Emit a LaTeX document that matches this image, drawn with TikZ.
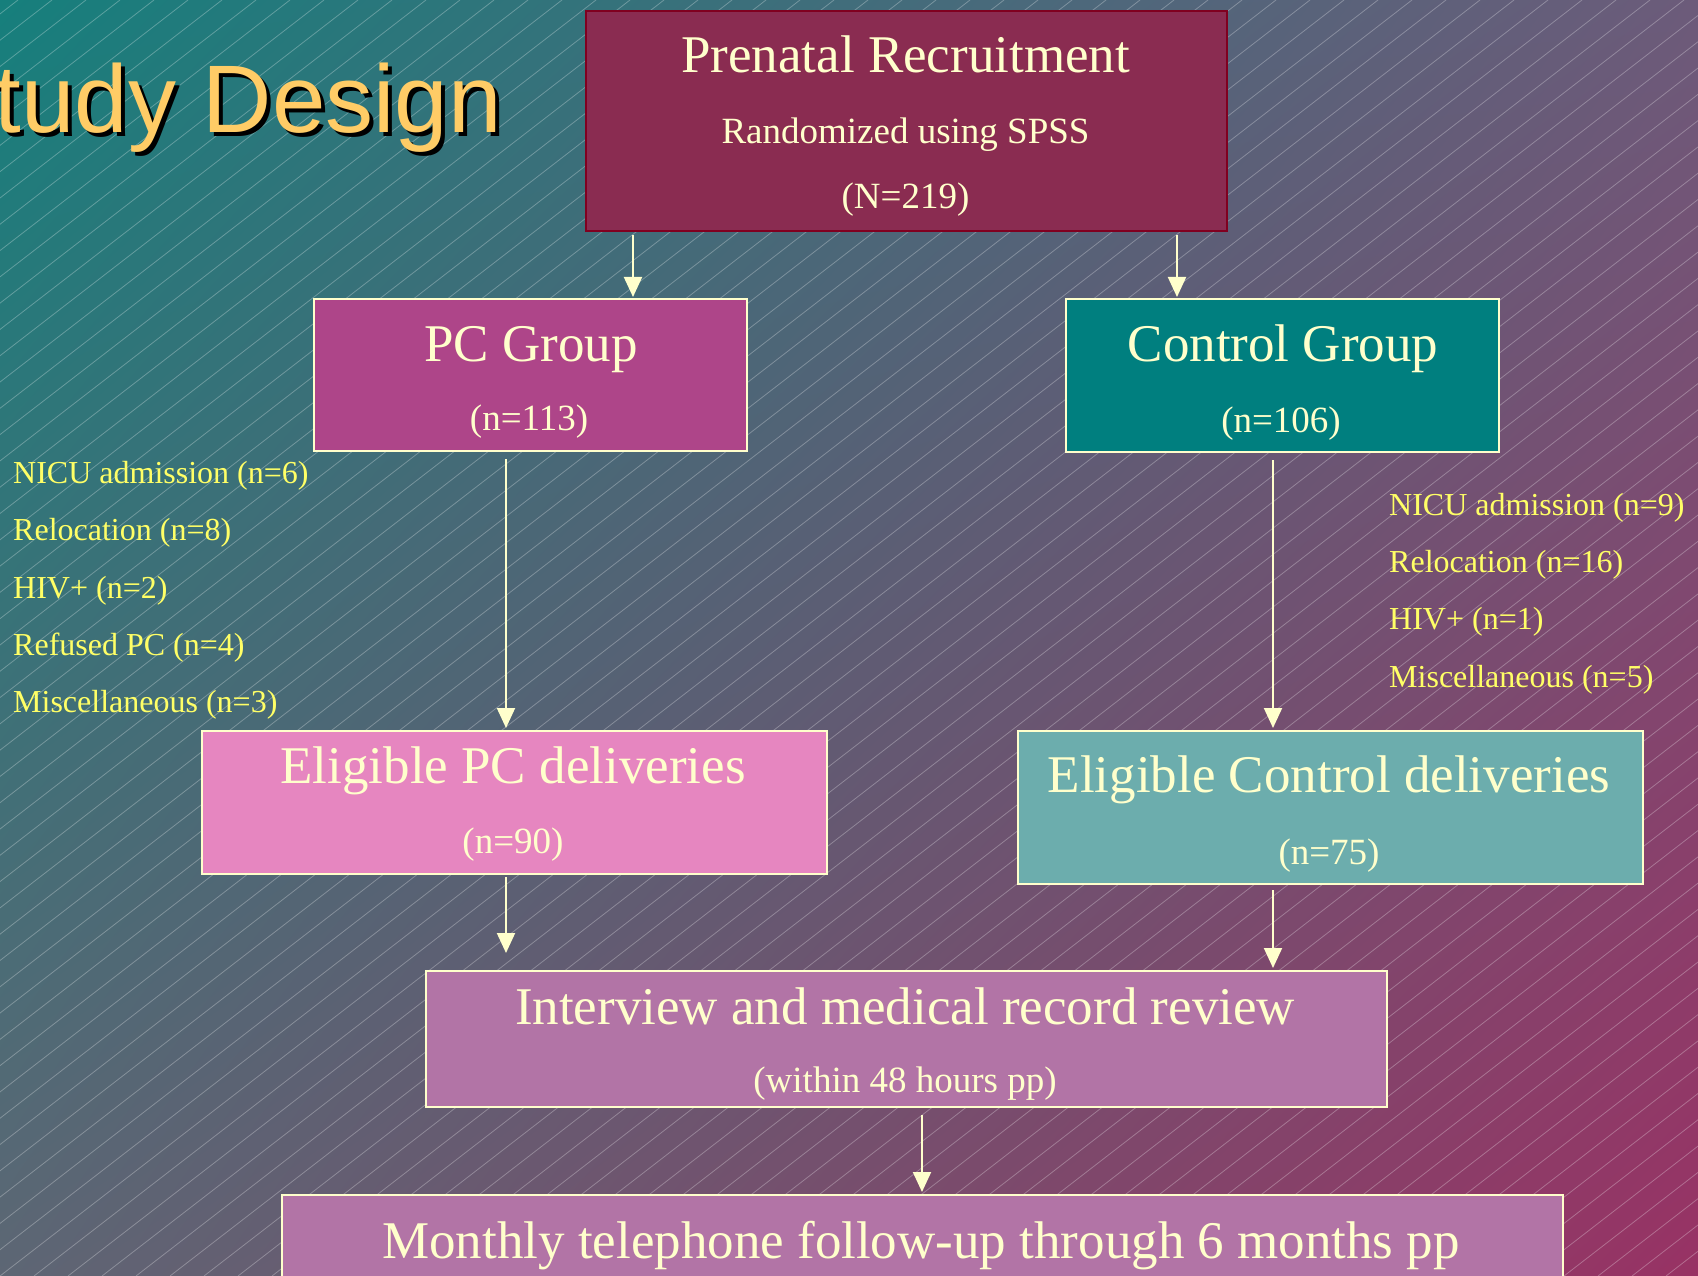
\documentclass[tikz,border=0pt]{standalone}
\usepackage{fontspec}
\setmainfont{Liberation Serif}
\newfontfamily\titlefont{Liberation Sans}
\usetikzlibrary{arrows.meta,shadings}
\definecolor{cream}{HTML}{FFFFCC}
\definecolor{listyellow}{HTML}{FFFF66}
\definecolor{titleyellow}{HTML}{FFCC66}
\definecolor{bgTL}{HTML}{167F7C}
\definecolor{bgTR}{HTML}{6C5B7A}
\definecolor{bgBL}{HTML}{5D6674}
\definecolor{bgBR}{HTML}{983264}
\definecolor{topfill}{HTML}{8A2C51}
\definecolor{topborder}{HTML}{800020}
\definecolor{pcfill}{HTML}{AE4589}
\definecolor{ctrlfill}{HTML}{007F7F}
\definecolor{epcfill}{HTML}{E686C0}
\definecolor{ectrlfill}{HTML}{6CADAD}
\definecolor{ivfill}{HTML}{B274A6}
\begin{document}
\begin{tikzpicture}[x=1pt,y=-1pt,
  box/.style={draw=cream, line width=2pt, inner sep=0pt, anchor=north west},
  big/.style={text=cream, anchor=base, inner sep=0pt, font=\fontsize{53}{60}\selectfont},
  small/.style={text=cream, anchor=base, inner sep=0pt, font=\fontsize{37}{42}\selectfont},
  listitem/.style={text=listyellow, anchor=base west, inner sep=0pt, font=\fontsize{32}{36}\selectfont},
  arr/.style={draw=cream, line width=2pt, -{Triangle[width=18pt,length=20pt]}},
  hatch/.style={draw=white, opacity=0.28, line width=0.8pt},
]
\useasboundingbox (0,0) rectangle (1698,1276);
% background
\shade[upper left=bgTL, upper right=bgTR, lower left=bgBL, lower right=bgBR] (0,0) rectangle (1698,1276);
\begin{scope}
  \clip (0,0) rectangle (1698,1276);
  \foreach \i in {-1700,-1666,...,1720} \draw[hatch] (\i,1276) -- ++(1650,-1276);
\end{scope}
% title
\node[anchor=base east, inner sep=0pt, text=black, font=\titlefont\fontsize{96}{100}\selectfont] (titleshadow) at (506,137) {Study Design};
\node[anchor=base east, inner sep=0pt, text=titleyellow, font=\titlefont\fontsize{96}{100}\selectfont] (title) at (502,133) {Study Design};
% boxes
\node[box, fill=topfill, draw=topborder, minimum width=641pt, minimum height=220pt] (top) at (585,10) {};
\node[box, fill=pcfill, minimum width=433pt, minimum height=152pt] (pc) at (313,298) {};
\node[box, fill=ctrlfill, minimum width=433pt, minimum height=153pt] (ctrl) at (1065,298) {};
\node[box, fill=epcfill, minimum width=625pt, minimum height=143pt] (epc) at (201,730) {};
\node[box, fill=ectrlfill, minimum width=625pt, minimum height=153pt] (ectrl) at (1017,730) {};
\node[box, fill=ivfill, minimum width=961pt, minimum height=136pt] (iv) at (425,970) {};
\node[box, fill=ivfill, minimum width=1281pt, minimum height=130pt] (mo) at (281,1194) {};
% box texts
\node[big] (t1) at (905.5,73) {Prenatal Recruitment};
\node[small] (t2) at (905.5,144) {Randomized using SPSS};
\node[small] (t3) at (905.5,209) {(N=219)};
\node[big] (p1) at (531,361) {PC Group};
\node[small] (p2) at (529,430) {(n=113)};
\node[big] (c1) at (1283,361) {Control Group};
\node[small] (c2) at (1281,432) {(n=106)};
\node[big] (e1) at (513,783) {Eligible PC deliveries};
\node[small] (e2) at (513,853) {(n=90)};
\node[big] (f1) at (1329,792) {Eligible Control deliveries};
\node[small] (f2) at (1329,864) {(n=75)};
\node[big] (i1) at (905,1024) {Interview and medical record review};
\node[small] (i2) at (905,1092) {(within 48 hours pp)};
\node[big] (m1) at (921,1258) {Monthly telephone follow-up through 6 months pp};
% lists
\node[listitem] (l1) at (13,483) {NICU admission (n=6)};
\node[listitem] (l2) at (13,540) {Relocation (n=8)};
\node[listitem] (l3) at (13,598) {HIV+ (n=2)};
\node[listitem] (l4) at (13,655) {Refused PC (n=4)};
\node[listitem] (l5) at (13,712) {Miscellaneous (n=3)};
\node[listitem] (r1) at (1389,515) {NICU admission (n=9)};
\node[listitem] (r2) at (1389,572) {Relocation (n=16)};
\node[listitem] (r3) at (1389,629) {HIV+ (n=1)};
\node[listitem] (r4) at (1389,687) {Miscellaneous (n=5)};
% connector x positions
\coordinate (ax1) at (633,0);
\coordinate (ax2) at (1177,0);
\coordinate (ax3) at (506,0);
\coordinate (ax4) at (1273,0);
\coordinate (ax5) at (922,0);
% connectors
\draw[arr, shorten <=3pt, shorten >=1pt] (top.south -| ax1) -- (pc.north -| ax1);
\draw[arr, shorten <=3pt, shorten >=1pt] (top.south -| ax2) -- (ctrl.north -| ax2);
\draw[arr, shorten <=7pt, shorten >=2pt] (pc.south -| ax3) -- (epc.north -| ax3);
\draw[arr, shorten <=7pt, shorten >=2pt] (ctrl.south -| ax4) -- (ectrl.north -| ax4);
\draw[arr, shorten <=2pt, shorten >=17pt] (epc.south -| ax3) -- (iv.north -| ax3);
\draw[arr, shorten <=5pt, shorten >=2pt] (ectrl.south -| ax4) -- (iv.north -| ax4);
\draw[arr, shorten <=7pt, shorten >=2pt] (iv.south -| ax5) -- (mo.north -| ax5);
\end{tikzpicture}
\end{document}
